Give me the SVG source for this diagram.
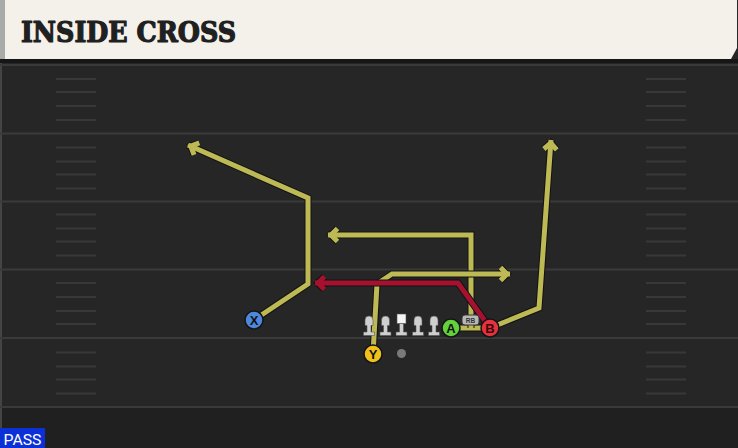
<svg xmlns="http://www.w3.org/2000/svg" width="738" height="448" viewBox="0 0 738 448">
<style>
.yl{stroke:#3a3a3a;stroke-width:2}
.hm{stroke:#383838;stroke-width:2}
.out{fill:none;stroke:#121212;stroke-width:7;stroke-linejoin:miter}
.yr{fill:none;stroke:#bdb955;stroke-width:5;stroke-linejoin:miter}
.rr{fill:none;stroke:#a5112e;stroke-width:5;stroke-linejoin:miter}
.pc{stroke:#151515;stroke-width:1.5}
.lt{font-family:"Liberation Sans",Arial,sans-serif;font-weight:bold;font-size:13px;text-anchor:middle}
.ol{fill:#cfcfcf;stroke:#555;stroke-width:0.6}
</style>
<defs>
<marker id="ao" viewBox="-12 -12 24 24" markerWidth="24" markerHeight="24" markerUnits="userSpaceOnUse" orient="auto" refX="0" refY="0"><path d="M-9.5,-6.5 L-3,0 L-9.5,6.5" fill="none" stroke="#121212" stroke-width="7"/></marker>
<marker id="ay" viewBox="-12 -12 24 24" markerWidth="24" markerHeight="24" markerUnits="userSpaceOnUse" orient="auto" refX="0" refY="0"><path d="M-9.5,-6.5 L-3,0 L-9.5,6.5" fill="none" stroke="#bdb955" stroke-width="5"/></marker>
<marker id="ar" viewBox="-12 -12 24 24" markerWidth="24" markerHeight="24" markerUnits="userSpaceOnUse" orient="auto" refX="0" refY="0"><path d="M-9.5,-6.5 L-3,0 L-9.5,6.5" fill="none" stroke="#a5112e" stroke-width="5"/></marker>
</defs>

<!-- field -->
<rect x="0" y="0" width="738" height="448" fill="#262626"/>
<rect x="0" y="407" width="738" height="41" fill="#202020"/>
<rect x="0" y="59" width="2" height="389" fill="#444"/>
<g id="yard-lines">
<line class="yl" x1="0" y1="65" x2="738" y2="65"/>
<line class="yl" x1="0" y1="133.5" x2="738" y2="133.5"/>
<line class="yl" x1="0" y1="201.5" x2="738" y2="201.5"/>
<line class="yl" x1="0" y1="269.5" x2="738" y2="269.5"/>
<line class="yl" x1="0" y1="338" x2="738" y2="338"/>
<line class="yl" x1="0" y1="407" x2="738" y2="407"/>
</g>
<g id="hash-marks">
<path class="hm" d="M56,79H96M56,92H96M56,106H96M56,120H96M56,147.5H96M56,161.5H96M56,174.5H96M56,188.5H96M56,214.5H96M56,228.5H96M56,241.5H96M56,255.5H96M56,283H96M56,297H96M56,311H96M56,324H96M56,352.5H96M56,366.5H96M56,379.5H96M56,393.5H96"/>
<path class="hm" d="M646,79H686M646,92H686M646,106H686M646,120H686M646,147.5H686M646,161.5H686M646,174.5H686M646,188.5H686M646,214.5H686M646,228.5H686M646,241.5H686M646,255.5H686M646,283H686M646,297H686M646,311H686M646,324H686M646,352.5H686M646,366.5H686M646,379.5H686M646,393.5H686"/>
</g>

<!-- header -->
<g id="header">
<rect x="0" y="59" width="738" height="4" fill="#161616"/>
<polygon points="0,0 737,0 737,48 731,59 0,59" fill="#f4f1ea"/>
<rect x="0" y="0" width="5" height="59" fill="#a8aba8"/>
<text x="21" y="42" font-family="'DejaVu Serif',serif" font-weight="bold" font-size="27.5" fill="#202020" stroke="#202020" stroke-width="1.2" stroke-linejoin="round" textLength="215" lengthAdjust="spacingAndGlyphs">INSIDE CROSS</text>
</g>

<!-- connectors -->
<g id="connectors">
<path class="out" marker-end="url(#ao)" d="M254,320 L308,284 L308,198 L188,145"/>
<path class="yr" marker-end="url(#ay)" d="M254,320 L308,284 L308,198 L188,145"/>
<path class="out" d="M451,328 L482,328"/>
<path class="yr" d="M451,328 L482,328"/>
<path class="out" marker-end="url(#ao)" d="M471,328 L471,235 L328,235"/>
<path class="yr" marker-end="url(#ay)" d="M471,328 L471,235 L328,235"/>
<path class="out" marker-end="url(#ao)" d="M373,354 L377,284 L392,274 L510,274"/>
<path class="yr" marker-end="url(#ay)" d="M373,354 L377,284 L392,274 L510,274"/>
<path class="out" marker-end="url(#ao)" d="M490,328 L539,308 L551,140"/>
<path class="yr" marker-end="url(#ay)" d="M490,328 L539,308 L551,140"/>
<path class="out" marker-end="url(#ao)" d="M490,328 L458,283 L315,283"/>
<path class="rr" marker-end="url(#ar)" d="M490,328 L458,283 L315,283"/>
</g>

<!-- offensive line -->
<g id="LT"><path class="ol" d="M365,325.5 V320 a4,4 0 0 1 8,0 V325.5 H371 V332 H374.5 V335.5 H363.5 V332 H367 V325.5 Z"/></g>
<g id="LG"><path class="ol" d="M381.5,325.5 V320 a4,4 0 0 1 8,0 V325.5 H387.5 V332 H391 V335.5 H380 V332 H383.5 V325.5 Z"/></g>
<g id="C"><rect x="397" y="314" width="9" height="9.5" fill="#f6f6f6" stroke="#555" stroke-width="0.6"/><path class="ol" d="M399.5,323.5 H403.5 V332 H407 V335.5 H396 V332 H399.5 Z"/></g>
<g id="RG"><path class="ol" d="M414,325.5 V320 a4,4 0 0 1 8,0 V325.5 H420 V332 H423.5 V335.5 H412.5 V332 H416 V325.5 Z"/></g>
<g id="RT"><path class="ol" d="M430,325.5 V320 a4,4 0 0 1 8,0 V325.5 H436 V332 H439.5 V335.5 H428.5 V332 H432 V325.5 Z"/></g>
<g id="QB"><circle cx="401.5" cy="353.5" r="4.5" fill="#7a7a7a"/></g>
<g id="RB"><rect x="462" y="315" width="17" height="10" rx="3" fill="#b8b8b8" stroke="#3a3a3a" stroke-width="1"/><text x="470.5" y="322.5" font-family="'Liberation Sans',Arial,sans-serif" font-weight="bold" font-size="6.5" fill="#333" text-anchor="middle">RB</text></g>

<!-- players -->
<g id="X"><circle class="pc" cx="254" cy="320" r="9" fill="#4d88dd"/><text class="lt" x="254" y="324.5" fill="#111">X</text></g>
<g id="Y"><circle class="pc" cx="373" cy="354" r="9" fill="#f0c11c"/><text class="lt" x="373" y="358.5" fill="#111">Y</text></g>
<g id="A"><circle class="pc" cx="451" cy="328" r="9" fill="#62d13b"/><text class="lt" x="451" y="332.5" fill="#111">A</text></g>
<g id="B"><circle class="pc" cx="490" cy="328" r="9" fill="#e5323e"/><text class="lt" x="490" y="332.5" fill="#3a0808">B</text></g>

<!-- play type -->
<g id="pass-label"><rect x="0" y="428" width="45" height="20" fill="#0b30d8"/><text x="3.5" y="445" font-family="Roboto,'Liberation Sans',sans-serif" font-size="15" fill="#ffffff" textLength="38" lengthAdjust="spacingAndGlyphs">PASS</text></g>
</svg>
